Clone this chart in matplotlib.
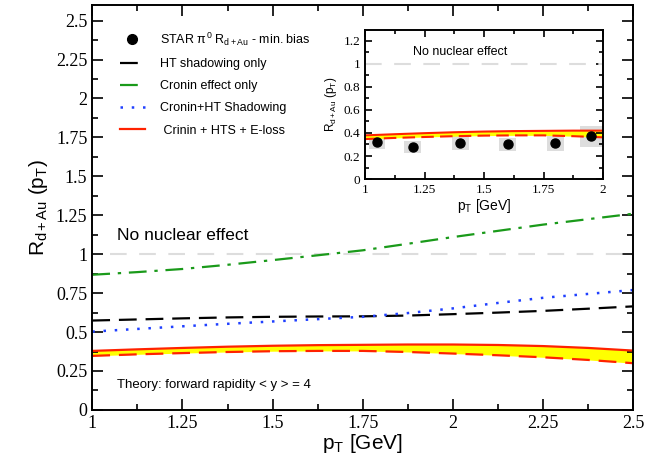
import numpy as np
import matplotlib
matplotlib.use("Agg")
import matplotlib.pyplot as plt
from matplotlib.ticker import MultipleLocator

plt.rcParams['font.family'] = ['Liberation Sans', 'DejaVu Sans']
plt.rcParams['mathtext.fontset'] = 'custom'
plt.rcParams['mathtext.rm'] = 'Liberation Sans'
plt.rcParams['mathtext.it'] = 'Liberation Sans'

# theory curves (pT in GeV)
pt = [1.0, 1.125, 1.25, 1.375, 1.5, 1.625, 1.75, 1.875, 2.0, 2.125, 2.25, 2.375, 2.5]
cronin = [0.868, 0.885, 0.905, 0.932, 0.962, 0.993, 1.025, 1.067, 1.11, 1.15, 1.19, 1.225, 1.26]
ht_shadow = [0.574, 0.581, 0.588, 0.594, 0.598, 0.600, 0.601, 0.606, 0.615, 0.625, 0.636, 0.650, 0.665]
cronin_ht = [0.503, 0.52, 0.537, 0.553, 0.568, 0.583, 0.598, 0.622, 0.652, 0.687, 0.72, 0.745, 0.77]
eloss_upper = [0.379, 0.389, 0.398, 0.406, 0.412, 0.416, 0.418, 0.420, 0.420, 0.417, 0.410, 0.398, 0.381]
eloss_lower = [0.347, 0.357, 0.365, 0.372, 0.377, 0.379, 0.379, 0.372, 0.362, 0.351, 0.338, 0.321, 0.300]

# STAR pi0 data (inset)
star_pt = [1.05, 1.2, 1.4, 1.6, 1.8, 1.95]
star_r = [0.32, 0.28, 0.31, 0.30, 0.31, 0.37]
star_sys = [0.06, 0.05, 0.06, 0.06, 0.07, 0.09]

serif = 'Liberation Serif'

def style_axes(ax, fs, maj, mino):
    ax.tick_params(which='both', direction='in', top=True, right=True, width=1.2)
    ax.tick_params(which='major', length=maj, labelsize=fs)
    ax.tick_params(which='minor', length=mino)
    for lab in ax.get_xticklabels() + ax.get_yticklabels():
        lab.set_fontfamily(serif)
    for s in ax.spines.values():
        s.set_linewidth(1.4)

def fmt(v, pos):
    return ('%.2f' % v).rstrip('0').rstrip('.')

fig = plt.figure(figsize=(6.59, 4.57), dpi=100)
ax = fig.add_axes([0.140, 0.103, 0.821, 0.886])

ax.fill_between(pt, eloss_lower, eloss_upper, color='#ffff00', lw=0)
ax.plot([1.05, 2.5], [1, 1], color='#dddddd', lw=1.5, dashes=(8, 6))
ax.plot(pt, cronin, color='#1a9a1a', lw=1.6, dashes=(8, 3.5, 1.5, 3.5), label='Cronin effect only')
ax.plot(pt, ht_shadow, color='black', lw=1.6, dashes=(8, 4), label='HT shadowing only')
ax.plot(pt, cronin_ht, color='#2040ff', lw=1.8, dashes=(1, 3.5), label='Cronin+HT Shadowing')
ax.plot(pt, eloss_upper, color='#ff2200', lw=1.6, label=' Crinin + HTS + E-loss')
ax.plot(pt, eloss_lower, color='#ff2200', lw=1.6, dashes=(8, 4))
ax.plot([], [], 'o', color='black', ms=7, label=r'STAR $\pi^0$ R$_{d+Au}$ - min. bias')

h, l = ax.get_legend_handles_labels()
order = [4, 1, 0, 2, 3]
ax.legend([h[i] for i in order], [l[i] for i in order], loc='upper left',
          bbox_to_anchor=(0.03, 0.965), frameon=False, fontsize=9, handlelength=2.0,
          handletextpad=1.2, labelspacing=0.82)

ax.text(1.068, 1.12, 'No nuclear effect', fontsize=12.5, va='center')
ax.text(1.068, 0.16, 'Theory: forward rapidity < y > = 4', fontsize=9.5, va='center')

ax.set_xlim(1, 2.5)
ax.set_ylim(0, 2.6)
ax.xaxis.set_major_locator(MultipleLocator(0.25))
ax.xaxis.set_minor_locator(MultipleLocator(0.125))
ax.yaxis.set_major_locator(MultipleLocator(0.25))
ax.yaxis.set_minor_locator(MultipleLocator(0.125))
ax.xaxis.set_major_formatter(fmt)
ax.yaxis.set_major_formatter(fmt)
ax.set_xlabel(r'p$_T$ [GeV]', fontsize=15, labelpad=0)
ax.set_ylabel(r'R$_{d+Au}$ (p$_T$)', fontsize=15, labelpad=4)
style_axes(ax, 13, 8, 4)

# inset
ins = fig.add_axes([0.554, 0.608, 0.361, 0.326])
for x, y, e in zip(star_pt, star_r, star_sys):
    w = 0.09 if e > 0.08 else 0.07
    ins.add_patch(plt.Rectangle((x - w / 2, y - e), w, 2 * e, color='#dddddd', lw=0))
ins.plot([1, 2], [1, 1], color='#dddddd', lw=1.5, dashes=(8, 6))
ins.fill_between(pt, eloss_lower, eloss_upper, color='#ffff00', lw=0)
ins.plot(pt, eloss_upper, color='#ff2200', lw=1.5)
ins.plot(pt, eloss_lower, color='#ff2200', lw=1.5, dashes=(6, 3))
ins.plot(star_pt, star_r, 'o', color='black', ms=6.5)
ins.text(1.2, 1.1, 'No nuclear effect', fontsize=9, va='center')
ins.set_xlim(1, 2)
ins.set_ylim(0, 1.29)
ins.xaxis.set_major_locator(MultipleLocator(0.25))
ins.xaxis.set_minor_locator(MultipleLocator(0.125))
ins.yaxis.set_major_locator(MultipleLocator(0.2))
ins.yaxis.set_minor_locator(MultipleLocator(0.1))
ins.xaxis.set_major_formatter(fmt)
ins.yaxis.set_major_formatter(fmt)
ins.set_xlabel(r'p$_T$ [GeV]', fontsize=10, labelpad=1)
ins.set_ylabel(r'R$_{d+Au}$ (p$_T$)', fontsize=8.5, labelpad=3)
style_axes(ins, 9.5, 5, 3)

fig.savefig('out.png', dpi=100)
